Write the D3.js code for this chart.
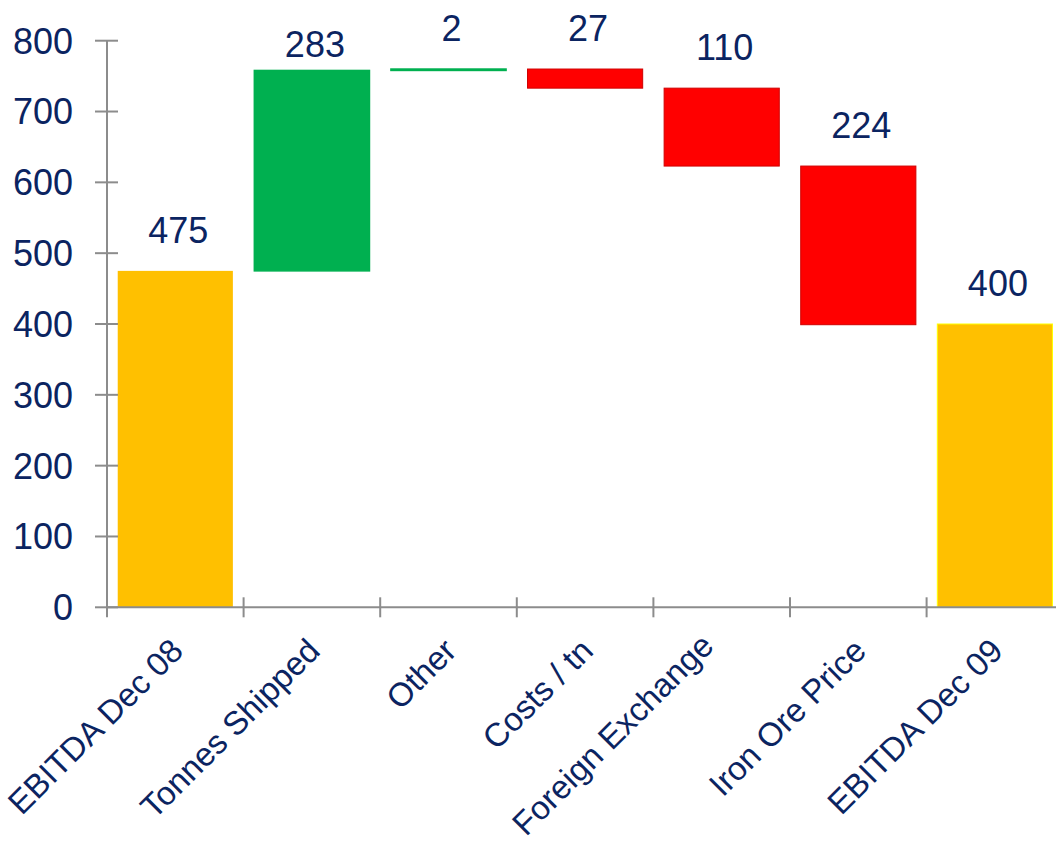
<!DOCTYPE html>
<html>
<head>
<meta charset="utf-8">
<script src="https://cdn.jsdelivr.net/npm/d3@7"></script>
<style>
  html, body { margin: 0; padding: 0; background: #fff; }
  svg { display: block; font-family: "Liberation Sans", Arial, sans-serif; }
</style>
</head>
<body>
<svg id="chart" width="1056" height="845"></svg>
<script>
// ---- data ----
const categories = ["EBITDA Dec 08", "Tonnes Shipped", "Other", "Costs / tn", "Foreign Exchange", "Iron Ore Price", "EBITDA Dec 09"];
const values = [475, 283, 2, -27, -110, -224, 400];
const kinds = ["total", "delta", "delta", "delta", "delta", "delta", "total"];
const valueLabels = ["475", "283", "2", "27", "110", "224", "400"];
const yTicks = [0, 100, 200, 300, 400, 500, 600, 700, 800];

// ---- build waterfall ----
let running = 0;
const rows = categories.map((c, i) => {
  let lo, hi;
  if (kinds[i] === "total") { lo = 0; hi = values[i]; running = values[i]; }
  else { const s = running; running += values[i]; lo = Math.min(s, running); hi = Math.max(s, running); }
  return { name: c, value: values[i], kind: kinds[i], lo, hi, label: valueLabels[i], i };
});

const svg = d3.select("#chart");
const x0 = 107, x1 = 107 + 7 * 136.6;
const pad = 0.157;
const x = d3.scaleBand().domain(categories).range([x0, x1]).paddingInner(pad).paddingOuter(pad / 2);
const y = d3.scaleLinear().domain([0, 800]).range([607.3, 40.7]);
const step = x.step();

const navy = "#0B2461";
const axisCol = "#8C8C8C";

// bars
const fillFor = d => d.kind === "total" ? "#FFC000" : (d.value >= 0 ? "#00B050" : "#FF0000");
const strokeFor = d => d.kind === "total" ? (d.i === rows.length - 1 ? "#FFFF00" : "none") : (d.value >= 0 ? "#00B050" : "#D00000");
svg.append("g").selectAll("rect").data(rows).join("rect")
  .attr("x", d => x(d.name))
  .attr("width", x.bandwidth())
  .attr("y", d => y(d.hi))
  .attr("height", d => Math.max(0.5, y(d.lo) - y(d.hi)))
  .attr("fill", fillFor)
  .attr("stroke", strokeFor)
  .attr("stroke-width", d => d.value >= 0 && d.kind === "delta" ? 1.5 : 1);

// y axis
const gy = svg.append("g").attr("transform", `translate(${x0},0)`);
gy.append("line").attr("x1", 0).attr("x2", 0).attr("y1", y(0)).attr("y2", y(800))
  .attr("stroke", axisCol).attr("stroke-width", 2);
gy.selectAll("line.tk").data(yTicks).join("line").attr("class", "tk")
  .attr("x1", -12).attr("x2", 11).attr("y1", d => y(d)).attr("y2", d => y(d))
  .attr("stroke", axisCol).attr("stroke-width", 2);
gy.selectAll("text").data(yTicks).join("text")
  .attr("x", -34).attr("y", d => y(d)).attr("dy", "0.36em")
  .attr("text-anchor", "end").attr("fill", navy).style("font-size", "36px")
  .text(d => d);

// x axis
const gx = svg.append("g");
gx.append("line").attr("x1", x0).attr("x2", x1).attr("y1", y(0)).attr("y2", y(0))
  .attr("stroke", axisCol).attr("stroke-width", 2);
const tickXs = categories.map(c => x(c) - step * pad / 2).concat([x1]);
gx.selectAll("line.tk").data(tickXs).join("line").attr("class", "tk")
  .attr("x1", d => d).attr("x2", d => d).attr("y1", y(0) - 10).attr("y2", y(0) + 10)
  .attr("stroke", axisCol).attr("stroke-width", 2);
const labelNudgeX = c => c === "Foreign Exchange" ? -16 : 0;
const labelNudgeY = c => c === "Foreign Exchange" ? -5 : 0;
gx.selectAll("text").data(categories).join("text")
  .attr("transform", c => `translate(${x(c) + x.bandwidth() / 2 - 7 + labelNudgeX(c)},${636 + labelNudgeY(c)}) rotate(-45)`)
  .attr("dy", "0.72em")
  .attr("text-anchor", "end").attr("fill", navy).style("font-size", "33px")
  .text(c => c);

// value labels
const lift = d => d.name === "Tonnes Shipped" ? 13 : 28;
svg.append("g").selectAll("text").data(rows).join("text")
  .attr("x", d => x(d.name) + x.bandwidth() / 2 + 3)
  .attr("y", d => y(d.hi) - lift(d))
  .attr("text-anchor", "middle").attr("fill", navy).style("font-size", "36px")
  .text(d => d.label);
</script>
</body>
</html>
